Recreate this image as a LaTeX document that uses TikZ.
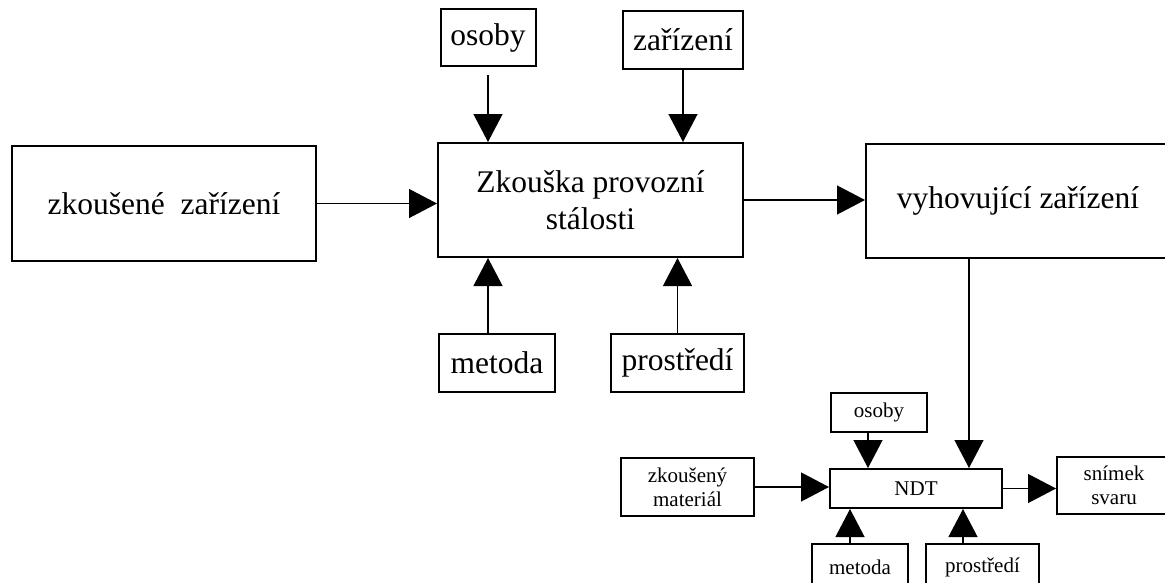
\documentclass[tikz,border=0pt]{standalone}
\usepackage{fontspec}
\setmainfont{Liberation Serif}
\usepackage{tikz}
\usetikzlibrary{arrows.meta}

\begin{document}
\begin{tikzpicture}[x=1pt,y=-1pt,
bbox/.style={draw, line width=2pt, align=center, inner sep=2pt, font=\fontsize{31.5}{37}\selectfont},
sbox/.style={draw, line width=2pt, align=center, inner sep=2pt, font=\fontsize{21}{24}\selectfont},
arr/.style={line width=1.2pt, -{Triangle[length=28pt,width=29pt]}}]
	\useasboundingbox (0,0) rectangle (1165,582);
	% upper chain
	\node[bbox, minimum width=304pt, minimum height=115pt] at (164,203.5) (zkous) {zkoušené~~zařízení};
	\node[bbox, minimum width=305pt, minimum height=114pt] at (590.5,200) (zkouska) {Zkouška provozní\\stálosti};
	\node[bbox, minimum width=330pt, minimum height=114pt] at (1031,201) (vyhov) {vyhovující zařízení\hspace*{26pt}};
	\node[bbox, minimum width=95pt, minimum height=57pt] at (488,37.5) (osoby1) {osoby};
	\node[bbox, minimum width=120pt, minimum height=58pt] at (683,40) (zariz1) {zařízení};
	\node[bbox, minimum width=116pt, minimum height=58pt] at (497,363) (metoda1) {metoda};
	\node[bbox, minimum width=133pt, minimum height=58pt] at (677.5,363) (prostr1) {prostředí};
	\draw[arr] (zkous.east) -- (zkous.east -| zkouska.west);
	\draw[arr] (zkouska.east) -- (zkouska.east -| vyhov.west);
	\draw[arr, shorten <=8pt] (osoby1.south) -- (osoby1 |- zkouska.north);
	\draw[arr] (zariz1.south) -- (zariz1 |- zkouska.north);
	\draw[arr] (metoda1.north -| osoby1) -- (osoby1 |- zkouska.south);
	\draw[arr] (prostr1.north) -- (prostr1 |- zkouska.south);

	% NDT
	\node[sbox, minimum width=172pt, minimum height=39pt] at (916,488.5) (ndt) {NDT};
	\node[sbox, minimum width=96pt, minimum height=39pt] at (879,412.5) (osoby2) {osoby};
	\node[sbox, minimum width=133pt, minimum height=58pt] at (687.5,487) (zkmat) {zkoušený\\materiál};
	\node[sbox, minimum width=140pt, minimum height=57pt] at (1127,485.5) (snimek) {snímek\hspace*{26pt}\\svaru\hspace*{26pt}};
	\node[sbox, minimum width=96pt, minimum height=46pt] at (860,567) (metoda2) {metoda};
	\node[sbox, minimum width=113pt, minimum height=46pt] at (982.5,567) (prostr2) {prostředí};
	\coordinate (drop) at ([xshift=104pt]vyhov.south west);
	\draw[arr] (drop) -- (drop |- ndt.north);
	\draw[arr] (zkmat.east) -- (zkmat.east -| ndt.west);
	\draw[arr] (ndt.east) -- (ndt.east -| snimek.west);
	\draw[arr] ([xshift=-11pt]osoby2.south) -- ([xshift=-11pt]osoby2.south |- ndt.north);
	\draw[arr] ([xshift=-10pt]metoda2.north) -- ([xshift=-10pt]metoda2.north |- ndt.south);
	\draw[arr] ([xshift=-19.5pt]prostr2.north) -- ([xshift=-19.5pt]prostr2.north |- ndt.south);
\end{tikzpicture}
\end{document}
